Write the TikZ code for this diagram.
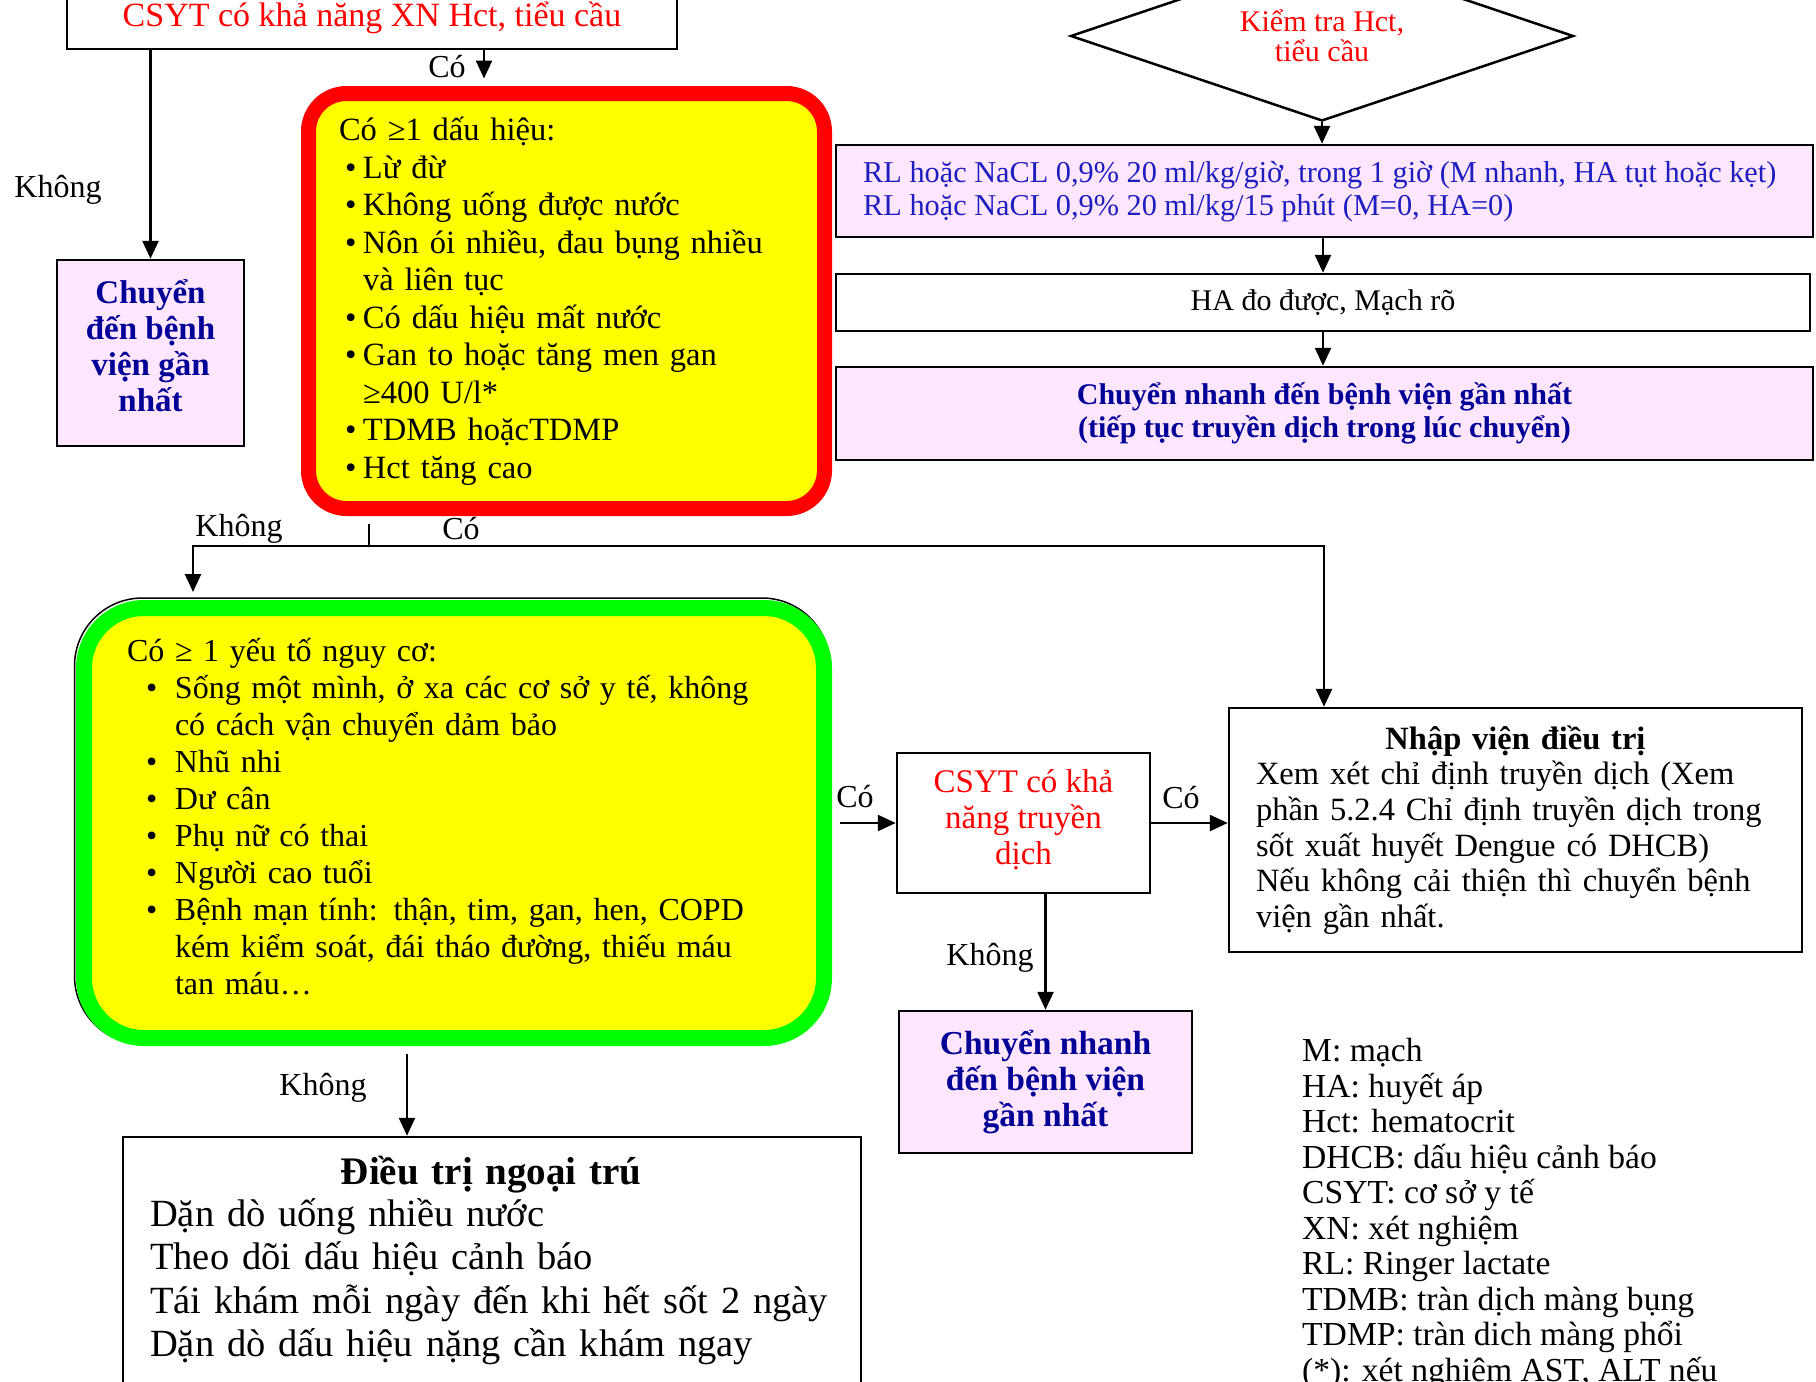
\documentclass[tikz,border=0pt]{standalone}
\usepackage{fontspec}
\setmainfont{Liberation Serif}
\usetikzlibrary{arrows.meta,shapes.geometric}

\definecolor{boxpink}{RGB}{255,230,255}
\definecolor{navy}{RGB}{0,0,150}
\definecolor{rlblue}{RGB}{30,30,190}
\definecolor{alertred}{RGB}{255,0,0}
\definecolor{signyellow}{RGB}{255,255,0}
\definecolor{riskgreen}{RGB}{0,255,0}

\newcommand\fs[2]{\fontsize{#1}{#2}\selectfont}
% bullet lines inside the red and green boxes
\newcommand\ritem[1]{\hspace*{6pt}\makebox[18pt][l]{•}#1}
\newcommand\rcont[1]{\hspace*{24pt}#1}
\newcommand\gitem[1]{\hspace*{19pt}\makebox[29pt][l]{•}#1}
\newcommand\gcont[1]{\hspace*{48pt}#1}

\begin{document}
\begin{tikzpicture}[x=1pt, y=-1pt,
  box/.style={draw=black, line width=2.5pt, inner sep=0pt, align=center},
  pinkbox/.style={box, fill=boxpink},
  txt/.style={inner sep=0pt},
  navytext/.style={text=navy, font=\fs{33}{36}\bfseries, align=center},
  arr/.style={line width=2.5pt, -{Triangle[width=16pt,length=18pt]}},
  conn/.style={line width=2.5pt},
  lbl/.style={inner sep=0pt, font=\fs{32}{36}},
]
\useasboundingbox (0,0) rectangle (1816,1382);
\fill[white] (0,0) rectangle (1816,1382);
\clip (0,0) rectangle (1816,1382);

% ---------- top row ----------
\node[box, minimum width=610pt, minimum height=62pt, text=alertred, font=\fs{34}{38}]
  (lab) at (372,18) {CSYT có khả năng XN Hct, tiểu cầu};

\node[pinkbox, minimum width=187pt, minimum height=186pt] (tr) at (150.5,353) {};
\node[txt, navytext] (trtext) at (150.5,346) {Chuyển\\đến bệnh\\viện gần\\nhất};

\node[draw=alertred, line width=15pt, fill=signyellow, rounded corners=38pt,
      minimum width=516pt, minimum height=415pt, inner sep=0pt,
      text width=455pt, align=left, font=\fs{32.5}{37.5}]
  (sig) at (566.5,301) {Có ≥1 dấu hiệu:\\
  \ritem{Lừ đừ}\\
  \ritem{Không uống được nước}\\
  \ritem{Nôn ói nhiều, đau bụng nhiều}\\
  \rcont{và liên tục}\\
  \ritem{Có dấu hiệu mất nước}\\
  \ritem{Gan to hoặc tăng men gan}\\
  \rcont{≥400 U/l*}\\
  \ritem{TDMB hoặcTDMP}\\
  \ritem{Hct tăng cao}};

\node[diamond, aspect=2.96, draw=black, line width=2.5pt, fill=white,
      minimum width=503pt, minimum height=170pt, inner sep=0pt, align=center,
      text=alertred, font=\fs{30}{30}]
  (chk) at (1322,36) {Kiểm tra Hct,\\tiểu cầu};

\node[pinkbox, minimum width=977pt, minimum height=92pt] (rl) at (1324.5,191) {};
\node[txt, anchor=west, align=left, text=rlblue, font=\fs{30.3}{33}]
  (rltext) at (863,191.5) {RL hoặc NaCL 0,9\% 20 ml/kg/giờ, trong 1 giờ (M nhanh, HA tụt hoặc kẹt)\\
  RL hoặc NaCL 0,9\% 20 ml/kg/15 phút (M=0, HA=0)};

\node[box, fill=white, minimum width=974pt, minimum height=57pt, font=\fs{30}{33}]
  (ha) at (1323,302.5) {HA đo được, Mạch rõ};

\node[pinkbox, minimum width=977pt, minimum height=93pt, text=navy, font=\fs{30}{33}\bfseries]
  (fast) at (1324.5,413.5) {Chuyển nhanh đến bệnh viện gần nhất\\(tiếp tục truyền dịch trong lúc chuyển)};

% ---------- middle row ----------
\draw[line width=1.5pt, rounded corners=68pt] (74.5,598) rectangle (830,1044);
\node[draw=riskgreen, line width=16pt, fill=signyellow, rounded corners=60pt,
      minimum width=740pt, minimum height=430pt, inner sep=0pt]
  (risk) at (454,823) {};
\node[txt, text width=654pt, align=left, font=\fs{32}{37}]
  (risktext) at (454,817) {Có ≥ 1 yếu tố nguy cơ:\\
  \gitem{Sống một mình, ở xa các cơ sở y tế, không}\\
  \gcont{có cách vận chuyển dảm bảo}\\
  \gitem{Nhũ nhi}\\
  \gitem{Dư cân}\\
  \gitem{Phụ nữ có thai}\\
  \gitem{Người cao tuổi}\\
  \gitem{Bệnh mạn tính: thận, tim, gan, hen, COPD}\\
  \gcont{kém kiểm soát, đái tháo đường, thiếu máu}\\
  \gcont{tan máu…}};

\node[box, fill=white, minimum width=253pt, minimum height=140pt] (fl) at (1023.5,823) {};
\node[txt, align=center, text=alertred, font=\fs{33}{36}]
  (fltext) at (1023.5,820) {CSYT có khả\\năng truyền\\dịch};

\node[box, fill=white, minimum width=573pt, minimum height=244pt,
      text width=519pt, align=left, font=\fs{32.5}{35.6}]
  (adm) at (1515.5,830) {\makebox[519pt]{\bfseries Nhập viện điều trị}\\
  Xem xét chỉ định truyền dịch (Xem\\
  phần 5.2.4 Chỉ định truyền dịch trong\\
  sốt xuất huyết Dengue có DHCB)\\
  Nếu không cải thiện thì chuyển bệnh\\
  viện gần nhất.};

\node[pinkbox, navytext, font=\fs{33.5}{36}\bfseries, minimum width=293pt, minimum height=142pt]
  (fast2) at (1045.5,1082) {Chuyển nhanh\\đến bệnh viện\\gần nhất};

% ---------- bottom row ----------
\node[box, fill=white, minimum width=738pt, minimum height=283pt] (opd) at (492,1278.5) {};
\node[anchor=north west, inner sep=0pt, text width=720pt, align=left, font=\fs{38.5}{43.5}]
  (opdtext) at (150,1156) {\makebox[682pt]{\fontsize{39}{43.5}\selectfont\bfseries Điều trị ngoại trú}\\[-2pt]
  Dặn dò uống nhiều nước\\
  Theo dõi dấu hiệu cảnh báo\\
  Tái khám mỗi ngày đến khi hết sốt 2 ngày\\
  Dặn dò dấu hiệu nặng cần khám ngay};

\node[anchor=north west, inner sep=0pt, align=left, font=\fs{33.6}{35.5}]
  (legend) at (1302,1038) {M: mạch\\
  HA: huyết áp\\
  Hct: hematocrit\\
  DHCB: dấu hiệu cảnh báo\\
  CSYT: cơ sở y tế\\
  XN: xét nghiệm\\
  RL: Ringer lactate\\
  TDMB: tràn dịch màng bụng\\
  TDMP: tràn dich màng phổi\\
  (*): xét nghiệm AST, ALT nếu};

% ---------- connectors ----------
\draw[arr] (lab.south -| tr.north) -- (tr.north);
\draw[arr, shorten >=7.5pt] ([xshift=112pt]lab.south) -- ([xshift=112pt]lab.south |- sig.north);
\draw[arr] (chk.south) -- (chk.south |- rl.north);
\draw[arr] (ha.north |- rl.south) -- (ha.north);
\draw[arr] (ha.south) -- (ha.south |- fast.north);

\coordinate (j) at (369,546);
\coordinate (jl) at (193,546);
\coordinate (jr) at (1324,546);
\draw[conn, shorten <=7.5pt] (sig.south -| j) -- (j);
\draw[arr, shorten >=8pt] (j) -| (jl |- risk.north);
\draw[arr] (j) -| (jr |- adm.north);

\draw[arr, shorten <=8pt] (risk.east |- fl.west) -- (fl.west);
\draw[arr] (fl.east) -- (fl.east -| adm.west);
\draw[arr] (fast2.north |- fl.south) -- (fast2.north);
\draw[arr, shorten <=8pt] ([xshift=-85pt]opd.north |- risk.south) -- ([xshift=-85pt]opd.north);

% ---------- connector labels ----------
\node[lbl] (l1) at (58,190) {Không};
\node[lbl] (l2) at (447,67) {Có};
\node[lbl] (l3) at (239,529) {Không};
\node[lbl] (l4) at (461,529) {Có};
\node[lbl] (l5) at (855,797) {Có};
\node[lbl] (l6) at (1181,798) {Có};
\node[lbl] (l7) at (990,958) {Không};
\node[lbl] (l8) at (323,1088) {Không};
\end{tikzpicture}
\end{document}
